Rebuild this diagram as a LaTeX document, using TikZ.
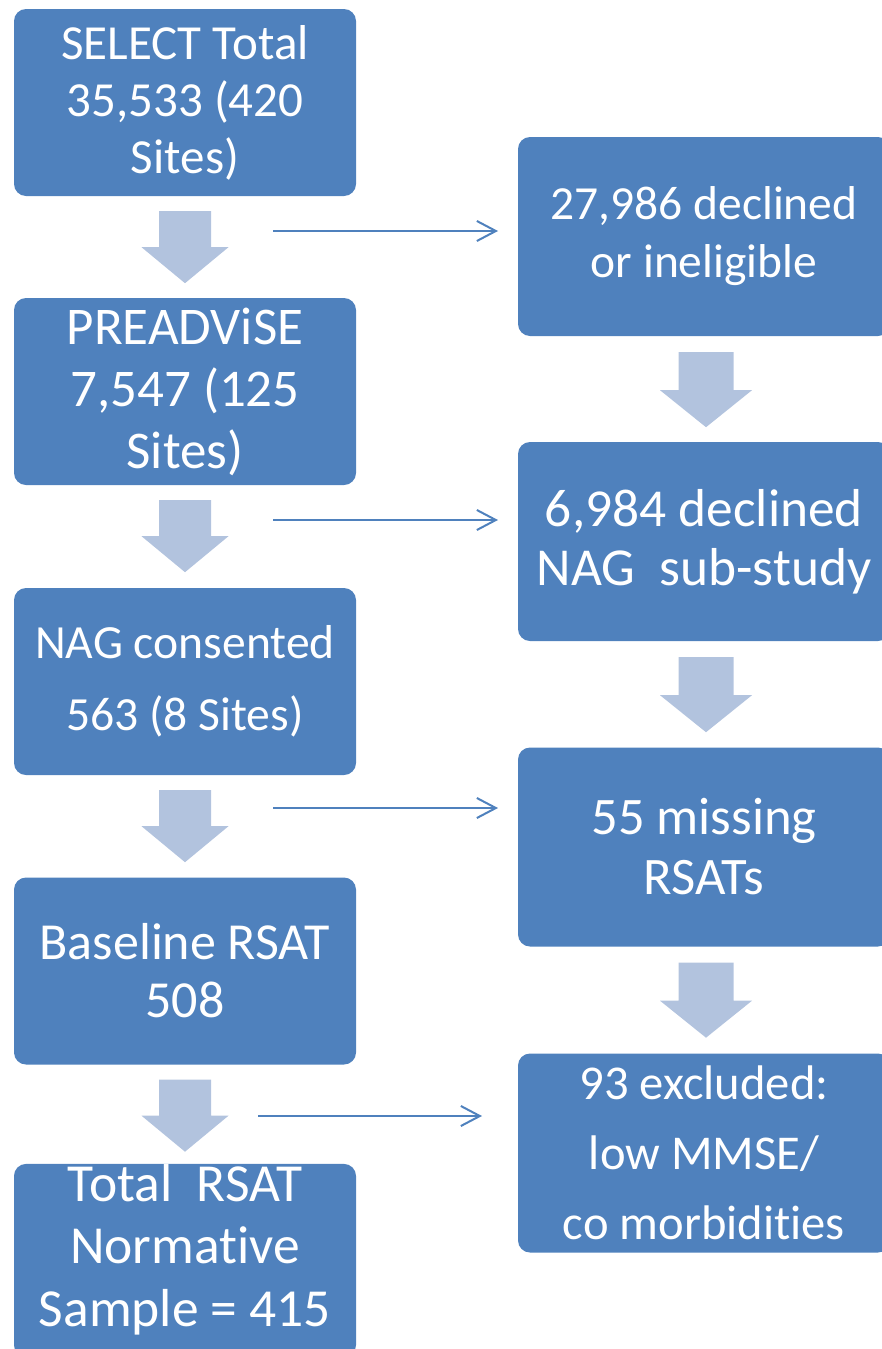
\documentclass[tikz,border=0pt]{standalone}
\usepackage{fontspec}
\setmainfont{Carlito}[RawFeature={-liga;-clig;-calt;-dlig}]
\usetikzlibrary{arrows.meta,calc}
\definecolor{boxblue}{HTML}{4F81BD}
\definecolor{arrowblue}{RGB}{178,195,222}
\newcommand\blockL[1]{\fill[barrow] ($(#1.south)+(-26,15)$) -- ++(52,0) -- ++(0,36) -- ++(17.5,0) -- ($(#1.south)+(0,87)$) -- ($(#1.south)+(-43.5,51)$) -- ++(17.5,0) -- cycle;}
\newcommand\blockR[1]{\fill[barrow] ($(#1.south)+(-25.5,16)$) -- ++(55,0) -- ++(0,38) -- ++(18.5,0) -- ($(#1.south)+(2,91)$) -- ($(#1.south)+(-44,54)$) -- ++(18.5,0) -- cycle;}
\begin{document}
\begin{tikzpicture}[x=1pt,y=-1pt,
  box/.style={fill=boxblue, rounded corners=12pt, text=white, align=center, inner sep=0pt},
  lbox/.style={box, minimum width=342pt, minimum height=187pt},
  rbox/.style={box, minimum width=372pt, minimum height=199pt},
  barrow/.style={fill=arrowblue},
  link/.style={draw=boxblue, line width=2pt, -{Straight Barb[length=19pt,width=20pt,line width=2pt]}}
]
\useasboundingbox (0,0) rectangle (882,1349);
% left column
\node[lbox, font=\fontsize{49}{57}\selectfont] (l1) at (185,102.5) {SELECT Total\\35,533 (420\\Sites)};
\node[lbox, font=\fontsize{53}{62}\selectfont] (l2) at (185,391.5) {PREADViSE\\7,547 (125\\Sites)};
\node[lbox, font=\fontsize{47.6}{72}\selectfont] (l3) at (185,681.5) {NAG consented\\563 (8 Sites)};
\node[lbox, font=\fontsize{52}{58}\selectfont] (l4) at (185,971) {Baseline RSAT\\508};
\node[lbox, font=\fontsize{53.5}{62.5}\selectfont] (l5) at (185,1260.5) {Total\ \ RSAT\\Normat\kern0pt ive\\Sample = 415\rule[-31pt]{0pt}{1pt}};
% right column
\node[rbox, font=\fontsize{47.5}{58}\selectfont] (r1) at (704,236.5) {27,986 declined\\or ineligible};
\node[rbox, font=\fontsize{53.4}{59}\selectfont] (r2) at (704,541.5) {6,984 declined\\NAG\ \ sub-study};
\node[rbox, font=\fontsize{52.7}{60}\selectfont] (r3) at (704,847) {55 missing\\RSATs};
\node[rbox, font=\fontsize{48.6}{70}\selectfont] (r4) at (704,1153) {93 excluded:\\low MMSE/\\co morbidit\kern0pt ies};
% block arrows
\blockL{l1}
\blockL{l2}
\blockL{l3}
\blockL{l4}
\blockR{r1}
\blockR{r2}
\blockR{r3}
% thin arrows
\coordinate (s1) at (273,231); \coordinate (e1) at (498,231);
\coordinate (s2) at (273,520); \coordinate (e2) at (498,520);
\coordinate (s3) at (273,808); \coordinate (e3) at (498,808);
\coordinate (s4) at (258,1116); \coordinate (e4) at (482,1116);
\draw[link] (s1) -- (e1);
\draw[link] (s2) -- (e2);
\draw[link] (s3) -- (e3);
\draw[link] (s4) -- (e4);
\end{tikzpicture}
\end{document}
